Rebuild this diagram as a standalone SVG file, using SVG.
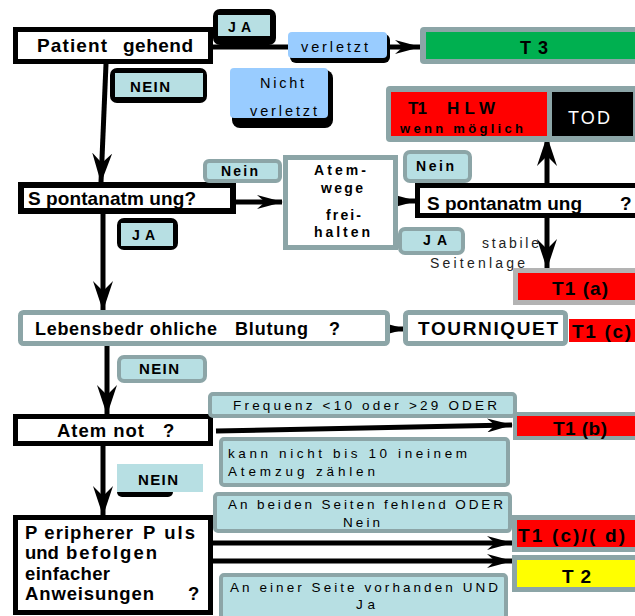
<svg xmlns="http://www.w3.org/2000/svg" width="635" height="616" viewBox="0 0 635 616">
<style>
text{font-family:"Liberation Sans",Arial,sans-serif;fill:#000}
.b{font-weight:bold}
.big{font-size:19px;font-weight:bold}
.lab{font-size:14px;font-weight:bold}
.sm{font-size:13.5px}
.blk{fill:#fff;stroke:#000;stroke-width:5}
.gry{fill:#fff;stroke:#8ca5a7;stroke-width:5}
.cy{fill:#b7dfe3;stroke:#8ca5a7;stroke-width:4}
.cyf{fill:#b7dfe3}
.lb{fill:#99ccff}
.red{fill:#ff0000}
.ln{stroke:#000;stroke-width:5;fill:none}
</style>
<defs>
<marker id="ah" markerUnits="userSpaceOnUse" markerWidth="26" markerHeight="14" refX="25" refY="7" orient="auto">
<path d="M0,0 L26,7 L0,14 L8,7 z" fill="#000"/>
</marker>
<marker id="av" markerUnits="userSpaceOnUse" markerWidth="30" markerHeight="20" refX="29" refY="10" orient="auto">
<path d="M0,0 L30,10 L0,20 L10,10 z" fill="#000"/>
</marker>
</defs>

<g id="connectors">
<line class="ln" x1="213" y1="47" x2="292" y2="47"/>
<line class="ln" x1="390" y1="47" x2="420" y2="47" marker-end="url(#ah)"/>
<line class="ln" x1="106" y1="64" x2="101" y2="182" marker-end="url(#av)"/>
<line class="ln" x1="236" y1="202" x2="282" y2="202" marker-end="url(#ah)"/>
<line class="ln" x1="385" y1="201" x2="416" y2="201" marker-end="url(#ah)"/>
<line class="ln" x1="547" y1="184" x2="547" y2="137" marker-end="url(#av)"/>
<line class="ln" x1="547" y1="218" x2="547" y2="268" marker-end="url(#av)"/>
<line class="ln" x1="103" y1="214" x2="103" y2="310" marker-end="url(#av)"/>
<line class="ln" x1="387" y1="329" x2="405" y2="329" marker-end="url(#ah)"/>
<line class="ln" x1="107" y1="346" x2="107" y2="414" marker-end="url(#av)"/>
<line class="ln" x1="216" y1="431" x2="512" y2="425" marker-end="url(#ah)"/>
<line class="ln" x1="103" y1="446" x2="103" y2="515" marker-end="url(#av)"/>
<line class="ln" x1="213" y1="543" x2="512" y2="543" marker-end="url(#ah)"/>
<line class="ln" x1="213" y1="561" x2="512" y2="561" marker-end="url(#ah)"/>
</g>

<g id="patient">
<rect class="blk" x="15.5" y="29.5" width="195" height="32"/>
<text class="big" y="52"><tspan x="37" textLength="70">Patient</tspan> <tspan x="123" textLength="70">gehend</tspan></text>
</g>

<g id="ja1">
<rect x="213" y="9" width="63" height="36" rx="7" fill="#000"/>
<rect class="cyf" x="218" y="15" width="52" height="21"/>
<text class="b" font-size="14" x="228" y="32" textLength="23">JA</text>
</g>

<g id="nein1">
<rect x="110" y="68" width="97" height="35" rx="7" fill="#000"/>
<rect class="cyf" x="115" y="73" width="88" height="24"/>
<text class="b" font-size="15" x="130" y="92" textLength="40">NEIN</text>
</g>

<g id="verletzt">
<rect x="290" y="34" width="100" height="29" rx="6" fill="#000"/>
<rect class="lb" x="288" y="32" width="99" height="26" rx="4"/>
<text font-size="14.5" x="301" y="52" textLength="67">verletzt</text>
</g>

<g id="nichtverletzt">
<rect x="232" y="70" width="101" height="58" rx="8" fill="#000"/>
<rect class="lb" x="230" y="68" width="98" height="50" rx="4"/>
<text font-size="14.5" x="260" y="88" textLength="44">Nicht</text>
<text font-size="14.5" x="250" y="116" textLength="67">verletzt</text>
</g>

<g id="t3">
<rect x="420" y="27" width="220" height="37" rx="4" fill="#8ca5a7"/>
<rect x="426" y="32" width="214" height="27" fill="#00b050"/>
<text class="b" font-size="18" x="520" y="54" textLength="28">T3</text>
</g>

<g id="t1hlw">
<rect x="386" y="86" width="254" height="56" rx="4" fill="#8ca5a7"/>
<rect class="red" x="391" y="92" width="156" height="44"/>
<rect x="552" y="92" width="81" height="44" fill="#000"/>
<text class="b" font-size="17" y="114"><tspan x="408" textLength="19">T1</tspan> <tspan x="447" textLength="48">HLW</tspan></text>
<text class="b" font-size="13" x="400" y="133" textLength="123">wenn möglich</text>
<text font-size="18" x="568" y="124" textLength="42" style="fill:#fff">TOD</text>
</g>

<g id="spontan1">
<rect x="21" y="185" width="212" height="26" fill="#fff" stroke="#000" stroke-width="6"/>
<text class="big" x="28" y="205" textLength="168">S pontanatm ung?</text>
</g>

<g id="nein2">
<rect class="cy" x="205" y="161" width="75" height="20" rx="4"/>
<text class="b" font-size="14" x="221" y="176" textLength="37">Nein</text>
</g>

<g id="ja2">
<rect x="117" y="218" width="61" height="32" rx="7" fill="#000"/>
<rect class="cyf" x="121" y="223" width="52" height="23"/>
<text class="b" font-size="14" x="132" y="240" textLength="23">JA</text>
</g>

<g id="atemwege">
<rect class="gry" x="285.5" y="157.5" width="110" height="90" stroke-width="4"/>
<text class="lab" x="314" y="175" textLength="52">Atem-</text>
<text class="lab" x="321" y="193" textLength="42">wege</text>
<text class="lab" x="326" y="220" textLength="35">frei-</text>
<text class="lab" x="314" y="237" textLength="56">halten</text>
</g>

<g id="nein3">
<rect class="cy" x="405" y="152" width="65" height="29" rx="5"/>
<text class="b" font-size="14" x="416" y="171" textLength="38">Nein</text>
</g>

<g id="spontan2">
<rect class="blk" x="417.5" y="185.5" width="225" height="30"/>
<text class="big" y="210"><tspan x="427" textLength="155">S pontanatm ung</tspan> <tspan x="620">?</tspan></text>
</g>

<g id="ja3">
<rect class="cy" x="400" y="229" width="63" height="24" rx="5"/>
<text class="b" font-size="14" x="423" y="245" textLength="24">JA</text>
</g>

<g id="seitenlage">
<text font-size="14" x="482" y="248" textLength="57" style="fill:#222">stabile</text>
<text font-size="14" x="430" y="268" textLength="95" style="fill:#222">Seitenlage</text>
</g>

<g id="t1a">
<rect x="515.5" y="270.5" width="125" height="32" fill="#ff0000" stroke="#b3b3b3" stroke-width="5"/>
<text class="big" x="552" y="295" textLength="56">T1 (a)</text>
</g>

<g id="blutung">
<rect class="gry" x="20.5" y="312.5" width="367" height="31" rx="3"/>
<text class="b" font-size="18" y="335"><tspan x="35" textLength="182">Lebensbedr ohliche</tspan> <tspan x="235" textLength="73">Blutung</tspan> <tspan x="329">?</tspan></text>
</g>

<g id="tourniquet">
<rect class="gry" x="405.5" y="312.5" width="160" height="31" rx="3"/>
<text class="big" x="418" y="335" textLength="140">TOURNIQUET</text>
</g>

<g id="t1c">
<rect class="red" x="569" y="319" width="70" height="23"/>
<text class="big" x="572" y="338" textLength="59">T1 (c)</text>
</g>

<g id="nein4">
<rect class="cy" x="119" y="357" width="86" height="24" rx="5"/>
<text class="b" font-size="15" x="139" y="374" textLength="40">NEIN</text>
</g>

<g id="atemnot">
<rect class="blk" x="15.5" y="416.5" width="195" height="27"/>
<text class="b" font-size="18.5" y="437"><tspan x="57" textLength="87">Atem not</tspan> <tspan x="163">?</tspan></text>
</g>

<g id="frequenz">
<rect class="cy" x="210" y="394" width="305" height="22" rx="3"/>
<text class="sm" x="233" y="410" textLength="264">Frequenz &lt;10 oder &gt;29 ODER</text>
</g>

<g id="t1b">
<rect x="515" y="414" width="125" height="24" fill="#ff0000" stroke="#8ca5a7" stroke-width="4"/>
<text class="big" x="553" y="435" textLength="54">T1 (b)</text>
</g>

<g id="kannnicht">
<rect class="cy" x="221" y="439" width="287" height="46" rx="3"/>
<text class="sm" x="228" y="458" textLength="239">kann nicht bis 10 ineinem</text>
<text class="sm" x="228" y="476" textLength="147">Atemzug zählen</text>
</g>

<g id="nein5">
<rect x="117" y="486" width="56" height="11" rx="5" fill="#000"/>
<rect class="cyf" x="117" y="464" width="86" height="28"/>
<text class="b" font-size="15" x="138" y="485" textLength="40">NEIN</text>
</g>

<g id="peripher">
<rect class="blk" x="15.5" y="517.5" width="195" height="95"/>
<text class="b" font-size="18.5" y="539"><tspan x="25" textLength="108">P eripherer</tspan> <tspan x="143" textLength="52">P uls</tspan></text>
<text class="b" font-size="18.5" y="559"><tspan x="25">und</tspan> <tspan x="66" textLength="91">befolgen</tspan></text>
<text class="b" font-size="18.5" x="25" y="580" textLength="85">einfacher</text>
<text class="b" font-size="18.5" y="600"><tspan x="25" textLength="129">Anweisungen</tspan> <tspan x="188">?</tspan></text>
</g>

<g id="anbeiden">
<rect class="cy" x="215" y="494" width="295" height="37" rx="3"/>
<text class="sm" x="228" y="509" textLength="275">An beiden Seiten fehlend ODER</text>
<text class="sm" x="343" y="527" textLength="37">Nein</text>
</g>

<g id="t1cd">
<rect x="514.5" y="517.5" width="125" height="32" fill="#ff0000" stroke="#8ca5a7" stroke-width="5"/>
<text class="big" x="518" y="542" textLength="107">T1 (c)/( d)</text>
</g>

<g id="t2">
<rect x="514.5" y="557.5" width="125" height="32" fill="#ffff00" stroke="#8ca5a7" stroke-width="5"/>
<text class="big" x="562" y="583" textLength="29">T2</text>
</g>

<g id="aneiner">
<rect class="cy" x="221" y="575" width="285" height="44" rx="3"/>
<text class="sm" x="230" y="592" textLength="268">An einer Seite vorhanden UND</text>
<text class="sm" x="356" y="609" textLength="19">Ja</text>
</g>
</svg>
